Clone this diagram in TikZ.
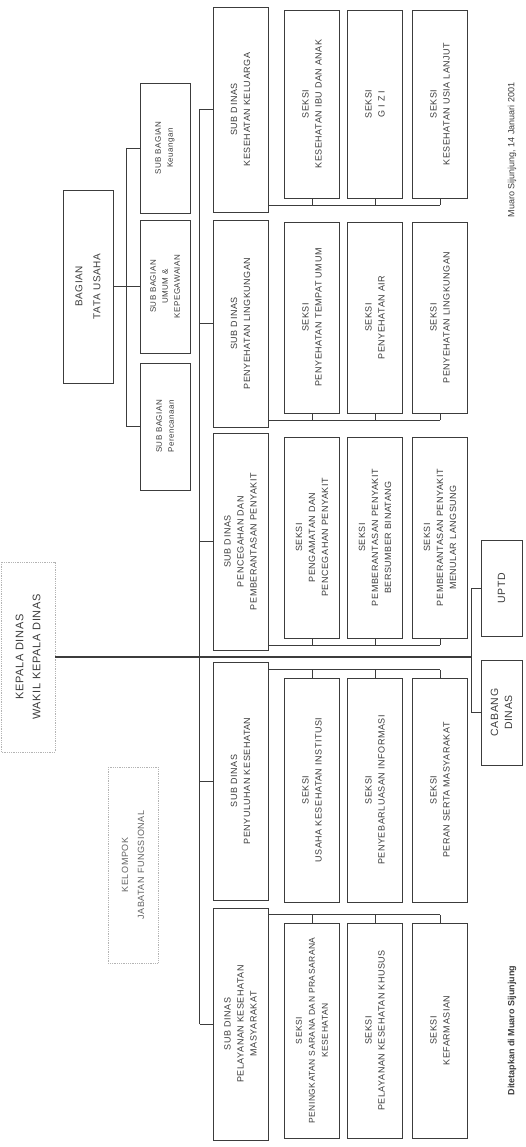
\documentclass[tikz,border=0pt]{standalone}
\usepackage{fontspec}
\setmainfont{Liberation Sans}
\newfontfamily\chartfont[LetterSpace=6]{Liberation Sans}
\usetikzlibrary{calc}
\definecolor{ink}{HTML}{3C3C3C}
\definecolor{faint}{HTML}{B4B4B4}

\begin{document}
\begin{tikzpicture}[x=1pt, y=-1pt, font=\chartfont\fontsize{9}{13}\selectfont,
  box/.style={draw=ink, line width=0.8pt, rotate=90, align=center, inner sep=1pt, text=ink},
  sdbox/.style={box, minimum height=55pt},
  skbox/.style={box, minimum height=55pt},
  sbbox/.style={box, minimum height=50pt, font=\chartfont\fontsize{8}{12}\selectfont},
  unit/.style={box, minimum height=41pt, font=\chartfont\fontsize{10.5}{14}\selectfont},
  ghost/.style={box, draw=faint, densely dotted},
  ln/.style={draw=ink, line width=0.8pt}]
\useasboundingbox (0,0) rectangle (525,1147);

% pimpinan dan tata usaha
\node[ghost, minimum height=54pt, minimum width=190pt, font=\chartfont\fontsize{11}{17}\selectfont] (kd) at (28,657) {KEPALA DINAS\\ WAKIL KEPALA DINAS};
\node[box, minimum height=50pt, minimum width=193pt, font=\chartfont\fontsize{10}{18}\selectfont] (btu) at (88,286.5) {BAGIAN\\ TATA USAHA};
\node[sbbox, minimum width=130pt] (sb1) at (165,148) {SUB BAGIAN\\ Keuangan};
\node[sbbox, minimum width=133pt] (sb2) at (165,286.5) {SUB BAGIAN\\ UMUM \&\\ KEPEGAWAIAN};
\node[sbbox, minimum width=127pt] (sb3) at (165,426.5) {SUB BAGIAN\\ Perencanaan};
\node[ghost, minimum height=50pt, minimum width=196pt, text=ink!80, font=\chartfont\fontsize{9}{16}\selectfont] (kjf) at (133,865) {KELOMPOK\\ JABATAN FUNGSIONAL};

% sub dinas
\node[sdbox, minimum width=205pt] (kk) at (240.5,109.5) {SUB DINAS\\ KESEHATAN KELUARGA};
\node[sdbox, minimum width=207pt] (pl) at (240.5,323.5) {SUB DINAS\\ PENYEHATAN LINGKUNGAN};
\node[sdbox, minimum width=217pt] (ppp) at (240.5,541.5) {SUB DINAS\\ PENCEGAHAN DAN\\ PEMBERANTASAN PENYAKIT};
\node[sdbox, minimum width=238pt] (pk) at (240.5,781) {SUB DINAS\\ PENYULUHAN KESEHATAN};
\node[sdbox, minimum width=232pt] (pkm) at (240.5,1024) {SUB DINAS\\ PELAYANAN KESEHATAN\\ MASYARAKAT};

% seksi
\node[skbox, minimum width=188pt] (kk1) at (312,104) {SEKSI\\ KESEHATAN IBU DAN ANAK};
\node[skbox, minimum width=188pt] (kk2) at (375,104) {SEKSI\\ G I Z I};
\node[skbox, minimum width=188pt] (kk3) at (440,104) {SEKSI\\ KESEHATAN USIA LANJUT};
\node[skbox, minimum width=191pt] (pl1) at (312,317.5) {SEKSI\\ PENYEHATAN TEMPAT UMUM};
\node[skbox, minimum width=191pt] (pl2) at (375,317.5) {SEKSI\\ PENYEHATAN AIR};
\node[skbox, minimum width=191pt] (pl3) at (440,317.5) {SEKSI\\ PENYEHATAN LINGKUNGAN};
\node[skbox, minimum width=201pt] (ppp1) at (312,537.5) {SEKSI\\ PENGAMATAN DAN\\ PENCEGAHAN PENYAKIT};
\node[skbox, minimum width=201pt] (ppp2) at (375,537.5) {SEKSI\\ PEMBERANTASAN PENYAKIT\\ BERSUMBER BINATANG};
\node[skbox, minimum width=201pt] (ppp3) at (440,537.5) {SEKSI\\ PEMBERANTASAN PENYAKIT\\ MENULAR LANGSUNG};
\node[skbox, minimum width=224pt] (pk1) at (312,790) {SEKSI\\ USAHA KESEHATAN INSTITUSI};
\node[skbox, minimum width=224pt] (pk2) at (375,790) {SEKSI\\ PENYEBARLUASAN INFORMASI};
\node[skbox, minimum width=224pt] (pk3) at (440,790) {SEKSI\\ PERAN SERTA MASYARAKAT};
\node[skbox, minimum width=215pt, font=\chartfont\fontsize{8.5}{13}\selectfont] (pkm1) at (312,1030.5) {SEKSI\\ PENINGKATAN SARANA DAN PRASARANA\\ KESEHATAN};
\node[skbox, minimum width=215pt] (pkm2) at (375,1030.5) {SEKSI\\ PELAYANAN KESEHATAN KHUSUS};
\node[skbox, minimum width=215pt] (pkm3) at (440,1030.5) {SEKSI\\ KEFARMASIAN};

% unit pelaksana
\node[unit, minimum width=96pt] (uptd) at (501.5,588) {UPTD};
\node[unit, minimum width=105pt] (cabang) at (501.5,712.5) {CABANG\\ DINAS};

% garis
\coordinate (sbbus) at ([xshift=-13pt]sb1.north);
\draw[ln] (btu.south) -- (btu.south -| sbbus);
\draw[ln] (sbbus) -- (sbbus |- sb3.north);
\foreach \i in {1,2,3} \draw[ln] (sbbus |- sb\i.north) -- (sb\i.north);

\coordinate (ubus) at ([xshift=-9pt]uptd.north |- kd.south);
\draw[ln, line width=1.2pt] (kd.south) -- (ubus);
\draw[ln] (ubus |- uptd.north) -- (ubus |- cabang.north);
\draw[ln] (ubus |- uptd.north) -- (uptd.north);
\draw[ln] (ubus |- cabang.north) -- (cabang.north);

\coordinate (sdbus) at ([xshift=-13pt]kk.north);
\draw[ln] (sdbus) -- (sdbus |- pkm.north);
\foreach \n in {kk,pl,ppp,pk,pkm} \draw[ln] (sdbus |- \n.north) -- (\n.north);

\foreach \n in {kk,pl,ppp} {
  \coordinate (\n-c) at ([yshift=-7pt]\n3.west);
  \draw[ln] (\n.south |- \n-c) -- (\n-c);
  \foreach \i in {1,2,3} \draw[ln] (\n\i.west) -- (\n\i.west |- \n-c);
}
\foreach \n in {pk,pkm} {
  \coordinate (\n-c) at ([yshift=8pt]\n3.east);
  \draw[ln] (\n.south |- \n-c) -- (\n-c);
  \foreach \i in {1,2,3} \draw[ln] (\n\i.east) -- (\n\i.east |- \n-c);
}

% keterangan
\node[rotate=90, text=ink, font=\fontsize{9}{11}\selectfont] (tgl) at (512,150) {Muaro Sijunjung, 14 Januari 2001};
\node[rotate=90, anchor=east, text=ink, font=\bfseries\fontsize{9}{11}\selectfont] (tempat) at (512,962) {Ditetapkan di Muaro Sijunjung};
\end{tikzpicture}
\end{document}
